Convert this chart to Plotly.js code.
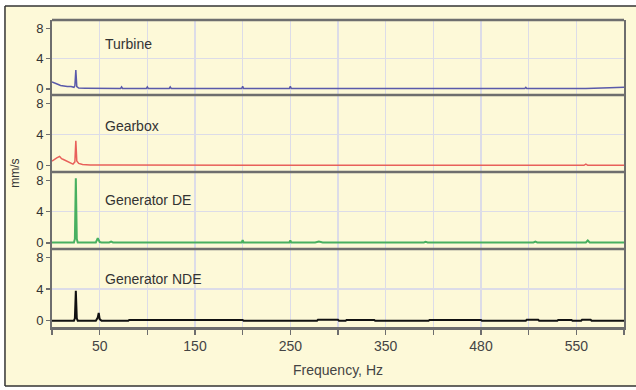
<!DOCTYPE html>
<html>
<head>
<meta charset="utf-8">
<script src="https://cdn.plot.ly/plotly-3.0.1.min.js"></script>
<style>
html,body{margin:0;padding:0;background:#fff;}
#chart{width:636px;height:390px;}
</style>
</head>
<body>
<div id="chart"></div>
<script>
// ---- Data ----
const panelNames = ["Turbine", "Gearbox", "Generator DE", "Generator NDE"];

const turbineFreq = [0, 3, 6, 9, 12, 16, 20, 23, 24, 25, 26, 28, 35, 50, 72, 73, 74, 99, 100, 101, 123, 124, 125, 199, 200, 201, 249, 250, 251, 496, 497, 498, 560, 585, 600];
const turbineAmp  = [0.9, 0.8, 0.6, 0.45, 0.35, 0.3, 0.3, 0.2, 0.4, 2.5, 0.3, 0.1, 0.08, 0.05, 0.05, 0.25, 0.05, 0.05, 0.25, 0.05, 0.05, 0.25, 0.05, 0.05, 0.35, 0.05, 0.05, 0.35, 0.05, 0.05, 0.2, 0.05, 0.05, 0.15, 0.2];

const gearboxFreq = [0, 3, 5, 8, 10, 12, 15, 19, 22, 24, 25, 26, 28, 32, 40, 60, 100, 200, 300, 400, 500, 558, 560, 562, 600];
const gearboxAmp  = [0.6, 0.9, 1.0, 1.2, 0.9, 0.8, 0.6, 0.4, 0.2, 0.5, 3.2, 0.6, 0.3, 0.15, 0.1, 0.08, 0.06, 0.05, 0.05, 0.05, 0.05, 0.05, 0.2, 0.05, 0.05];

const genDEFreq = [0, 23, 24, 25, 26, 27, 46, 48, 50, 52, 60, 62, 64, 100, 199, 200, 201, 249, 250, 251, 276, 280, 284, 390, 392, 394, 505, 507, 509, 560, 562, 564, 600];
const genDEAmp  = [0.05, 0.05, 0.5, 8.3, 0.5, 0.05, 0.05, 0.6, 0.1, 0.05, 0.05, 0.15, 0.05, 0.05, 0.05, 0.35, 0.05, 0.05, 0.3, 0.05, 0.05, 0.15, 0.05, 0.05, 0.12, 0.05, 0.05, 0.15, 0.05, 0.05, 0.3, 0.05, 0.05];

const genNDEFreq = [0, 23, 24, 25, 26, 27, 46, 48, 49, 50, 52, 80, 81, 200, 201, 278, 279, 300, 301, 308, 309, 338, 339, 395, 396, 450, 451, 497, 498, 510, 511, 530, 531, 545, 546, 555, 556, 565, 566, 600];
const genNDEAmp  = [0, 0, 0.3, 3.8, 0.3, 0, 0, 0.4, 1.0, 0.2, 0, 0, 0.1, 0.1, 0, 0, 0.12, 0.12, 0, 0, 0.1, 0.1, 0, 0, 0.1, 0.1, 0, 0, 0.12, 0.12, 0, 0, 0.1, 0.1, 0, 0, 0.12, 0.12, 0, 0];

const xTickVals = [50, 150, 250, 350, 450, 550];
const xTickText = ["50", "150", "250", "350", "480", "550"];
const yTickVals = [0, 4, 8];
const yTickText = ["0", "4", "8"];

// ---- Styling ----
const colors = ["#5a5aaa", "#e8605a", "#48b060", "#111111"];
const widths = [1.5, 1.5, 2, 2];
const FONT = "Liberation Sans, Arial, sans-serif";
const GRID = "#dcdce8";
const AXC = "#6e6e6e";

const freqs = [turbineFreq, gearboxFreq, genDEFreq, genNDEFreq];
const amps = [turbineAmp, gearboxAmp, genDEAmp, genNDEAmp];
const yNames = ["y", "y2", "y3", "y4"];

const traces = freqs.map((f, i) => ({
  type: "scatter", mode: "lines",
  x: f, y: amps[i],
  xaxis: "x", yaxis: yNames[i],
  line: {color: colors[i], width: widths[i]},
  name: panelNames[i], showlegend: false, hoverinfo: "skip"
}));

const bounds = [0, 0.254, 0.505, 0.756, 1];
function yax(k) {
  const lo = bounds[3 - k], hi = bounds[4 - k];
  return {
    domain: [lo, hi], anchor: "x",
    range: [-0.8, 9.1], fixedrange: true,
    tickmode: "array", tickvals: yTickVals, ticktext: yTickText,
    ticks: "outside", ticklen: 4, tickcolor: AXC, tickwidth: 1.5,
    tickfont: {family: FONT, size: 13, color: "#333"},
    showgrid: false, zeroline: false,
    minor: {tickmode: "array", tickvals: [4], showgrid: true, gridcolor: GRID, gridwidth: 1.5, ticks: ""},
    showline: true, mirror: true, linecolor: AXC, linewidth: 2
  };
}

const shapes = [
  {type: "rect", xref: "paper", yref: "paper", x0: -0.0822, x1: 1.03, y0: -0.192, y1: 1.0456,
   fillcolor: "#fdf9d8", line: {width: 0}, layer: "below"},
  {type: "line", xref: "paper", yref: "paper", x0: -0.0822, x1: 1.03, y0: 1.0456, y1: 1.0456, line: {color: "#333", width: 1.5}},
  {type: "line", xref: "paper", yref: "paper", x0: -0.0822, x1: -0.0822, y0: -0.192, y1: 1.0456, line: {color: "#333", width: 1.5}},
  {type: "line", xref: "paper", yref: "paper", x0: -0.0822, x1: 1.03, y0: -0.192, y1: -0.192, line: {color: "#333", width: 1.5}}
];
[0.254, 0.505, 0.756, 1].forEach(v => shapes.push(
  {type: "line", xref: "paper", yref: "paper", x0: 0, x1: 1, y0: v, y1: v, line: {color: AXC, width: 2.5}}
));

const labelY = [0.922, 0.655, 0.414, 0.156];
const annotations = panelNames.map((t, i) => ({
  text: t, xref: "paper", yref: "paper", x: 0.09, y: labelY[i],
  xanchor: "left", yanchor: "middle", showarrow: false,
  font: {family: FONT, size: 14, color: "#333"}
}));
annotations.push({
  text: "mm/s", xref: "paper", yref: "paper", x: -0.066, y: 0.5,
  xanchor: "center", yanchor: "middle", textangle: -90, showarrow: false,
  font: {family: FONT, size: 12, color: "#333"}
});

const layout = {
  width: 636, height: 390,
  margin: {l: 52, r: 12, t: 20, b: 63},
  paper_bgcolor: "#ffffff", plot_bgcolor: "#ffffff",
  font: {family: FONT, color: "#333"},
  xaxis: {
    anchor: "y4", domain: [0, 1], range: [0, 600], fixedrange: true,
    tickmode: "array", tickvals: xTickVals, ticktext: xTickText,
    ticks: "outside", ticklen: 5, tickcolor: AXC, tickwidth: 1.5,
    tickfont: {family: FONT, size: 14, color: "#444"},
    showgrid: true, gridcolor: GRID, gridwidth: 1.5, zeroline: false,
    minor: {dtick: 50, tick0: 0, showgrid: true, gridcolor: GRID, gridwidth: 1.5, ticks: "outside", ticklen: 5, tickcolor: AXC},
    showline: true, linecolor: AXC, linewidth: 2.5,
    title: {text: "Frequency, Hz", font: {family: FONT, size: 14, color: "#444"}, standoff: 12}
  },
  yaxis: yax(0), yaxis2: yax(1), yaxis3: yax(2), yaxis4: yax(3),
  shapes: shapes, annotations: annotations
};

Plotly.newPlot("chart", traces, layout, {displayModeBar: false, staticPlot: true});
</script>
</body>
</html>
